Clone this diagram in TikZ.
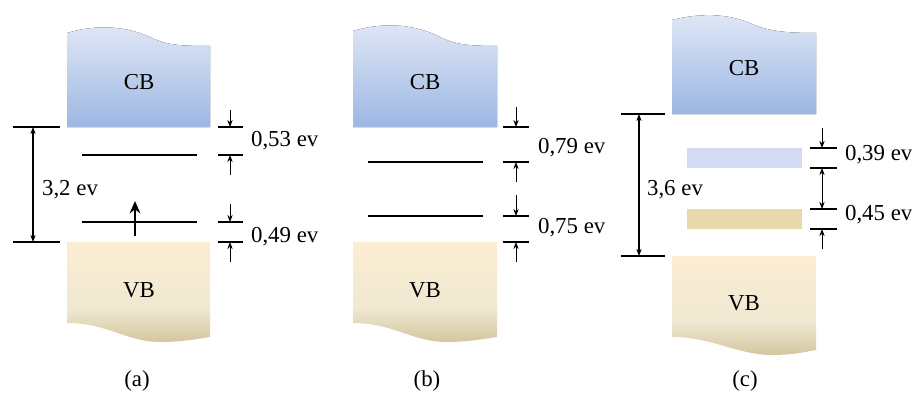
\documentclass[tikz,border=0pt]{standalone}
\usepackage{fontspec}
\setmainfont{Liberation Serif}
\usetikzlibrary{arrows.meta}
\definecolor{cbtop}{RGB}{224,231,246}
\definecolor{cbbot}{RGB}{156,183,227}
\definecolor{vbtop}{RGB}{252,237,210}
\definecolor{vbmid}{RGB}{240,232,210}
\definecolor{vbbot}{RGB}{212,198,160}
\definecolor{bandup}{RGB}{210,218,244}
\definecolor{banddown}{RGB}{232,216,170}
\pgfdeclareverticalshading{vbshade}{100bp}{color(0bp)=(vbbot); color(25bp)=(vbbot); color(42bp)=(vbmid); color(75bp)=(vbtop); color(100bp)=(vbtop)}
\tikzset{
  lbl/.style={font=\fontsize{13}{15}\selectfont, inner sep=1pt},
  dimarrow/.style={-{Stealth[length=4pt,width=3pt]}, line width=0.5pt},
  gaparrow/.style={{Stealth[length=4pt,width=3pt]}-{Stealth[length=4pt,width=3pt]}, line width=0.7pt},
  level/.style={line width=0.8pt},
  tick/.style={line width=0.7pt},
  cbfill/.style={top color=cbtop, bottom color=cbbot},
  vbfill/.style={shading=vbshade}
}
\begin{document}
\begin{tikzpicture}[x=0.02cm, y=-0.02cm]
\useasboundingbox (0,0) rectangle (917,399);
% (a)
\fill[cbfill] (67,127) -- (67,33) .. controls (97,24) and (127,26) .. (152,38) .. controls (167,45) and (180,46) .. (210,46) -- (210,127) -- cycle;
\shade[vbfill] (67,242) -- (67,323) .. controls (107,323) and (127,342) .. (160,342) .. controls (182,342) and (197,339) .. (210,337) -- (210,242) -- cycle;
\node[lbl] (cba) at (139,82) {CB};
\node[lbl] (vba) at (139,290) {VB};
\draw[tick] (13,127) -- (60,127);
\draw[tick] (13,242) -- (60,242);
\coordinate (ga1) at (33,127);
\coordinate (ga2) at (33,242);
\draw[gaparrow] (ga1) -- (ga2);
\node[lbl, anchor=west] (gapa) at (40,190) {3,2 ev};
\draw[level] (82,155) -- (197,155);
\draw[level] (82,222) -- (197,222);
\coordinate (ea1) at (135,236);
\coordinate (ea2) at (135,201);
\draw[-{Stealth[length=7pt,width=6pt]}, line width=1.6pt] (ea1) -- (ea2);
\draw[tick] (218,127) -- (243,127);
\draw[tick] (218,155) -- (243,155);
\draw[tick] (218,222) -- (243,222);
\draw[tick] (218,242) -- (243,242);
\coordinate (da1) at (230,110);
\coordinate (da2) at (230,127);
\coordinate (da3) at (230,175);
\coordinate (da4) at (230,155);
\coordinate (da5) at (230,204);
\coordinate (da6) at (230,222);
\coordinate (da7) at (230,262);
\coordinate (da8) at (230,242);
\draw[dimarrow] (da1) -- (da2);
\draw[dimarrow] (da3) -- (da4);
\draw[dimarrow] (da5) -- (da6);
\draw[dimarrow] (da7) -- (da8);
\node[lbl, anchor=west] (ea) at (249,141) {0,53 ev};
\node[lbl, anchor=west] (eb) at (249,237) {0,49 ev};
\node[lbl] (capa) at (137,381) {(a)};
% (b)
\fill[cbfill] (353,127) -- (353,31) .. controls (383,22) and (413,24) .. (438,36) .. controls (453,44) and (466,46) .. (497,46) -- (497,127) -- cycle;
\shade[vbfill] (353,242) -- (353,323) .. controls (393,323) and (413,342) .. (446,342) .. controls (468,342) and (483,339) .. (497,337) -- (497,242) -- cycle;
\node[lbl] (cbb) at (425,82) {CB};
\node[lbl] (vbb) at (425,290) {VB};
\draw[level] (368,162) -- (483,162);
\draw[level] (368,216) -- (483,216);
\draw[tick] (503,127) -- (529,127);
\draw[tick] (503,162) -- (529,162);
\draw[tick] (503,216) -- (529,216);
\draw[tick] (503,242) -- (529,242);
\coordinate (db1) at (516,107);
\coordinate (db2) at (516,127);
\coordinate (db3) at (516,182);
\coordinate (db4) at (516,162);
\coordinate (db5) at (516,195);
\coordinate (db6) at (516,216);
\coordinate (db7) at (516,262);
\coordinate (db8) at (516,242);
\draw[dimarrow] (db1) -- (db2);
\draw[dimarrow] (db3) -- (db4);
\draw[dimarrow] (db5) -- (db6);
\draw[dimarrow] (db7) -- (db8);
\node[lbl, anchor=west] (ec) at (536,148) {0,79 ev};
\node[lbl, anchor=west] (ed) at (536,228) {0,75 ev};
\node[lbl] (capb) at (427,381) {(b)};
% (c)
\fill[cbfill] (672,114) -- (672,20) .. controls (700,13) and (727,13) .. (752,24) .. controls (768,31) and (785,33) .. (816,33) -- (816,114) -- cycle;
\shade[vbfill] (672,256) -- (672,337) .. controls (712,337) and (738,355) .. (772,355) .. controls (792,355) and (805,352) .. (816,350) -- (816,256) -- cycle;
\node[lbl] (cbc) at (744,68) {CB};
\node[lbl] (vbc) at (744,303) {VB};
\draw[tick] (621,114) -- (665,114);
\draw[tick] (621,256) -- (665,256);
\coordinate (gc1) at (639,114);
\coordinate (gc2) at (639,256);
\draw[gaparrow] (gc1) -- (gc2);
\node[lbl, anchor=west] (gapc) at (645,190) {3,6 ev};
\fill[bandup] (687,148) rectangle (802,168);
\fill[banddown] (687,209) rectangle (802,229);
\draw[tick] (810,148) -- (837,148);
\draw[tick] (810,168) -- (837,168);
\draw[tick] (810,209) -- (837,209);
\draw[tick] (810,229) -- (837,229);
\coordinate (dc1) at (822,128);
\coordinate (dc2) at (822,148);
\coordinate (dc3) at (822,168);
\coordinate (dc4) at (822,209);
\coordinate (dc5) at (822,249);
\coordinate (dc6) at (822,229);
\draw[dimarrow] (dc1) -- (dc2);
\draw[{Stealth[length=4pt,width=3pt]}-{Stealth[length=4pt,width=3pt]}, line width=0.5pt] (dc3) -- (dc4);
\draw[dimarrow] (dc5) -- (dc6);
\node[lbl, anchor=west] (ee) at (843,155) {0,39 ev};
\node[lbl, anchor=west] (ef) at (843,215) {0,45 ev};
\node[lbl] (capc) at (745,381) {(c)};
\end{tikzpicture}
\end{document}
